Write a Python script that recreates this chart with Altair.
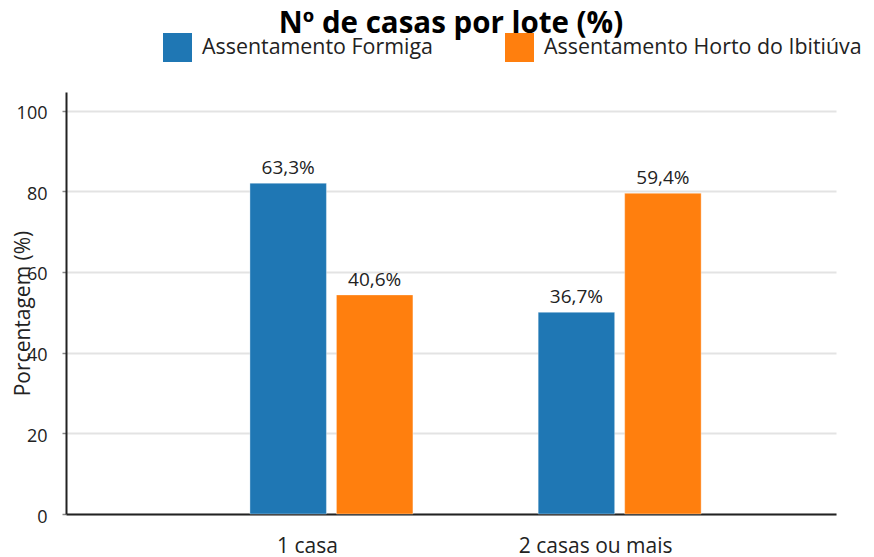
import altair as alt
import pandas as pd

categories = ["1 casa", "2 casas ou mais"]
series = ["Assentamento Formiga", "Assentamento Horto do Ibitiúva"]
values_formiga = [82.0, 50.0]
values_horto = [54.3, 79.5]
labels_formiga = ["63,3%", "36,7%"]
labels_horto = ["40,6%", "59,4%"]
colors = ["#1f77b4", "#ff7f0e"]
y_ticks = [0, 20, 40, 60, 80, 100]

rows = []
for i, c in enumerate(categories):
    rows.append({"cat": c, "serie": series[0], "valor": values_formiga[i], "rotulo": labels_formiga[i]})
    rows.append({"cat": c, "serie": series[1], "valor": values_horto[i], "rotulo": labels_horto[i]})
df = pd.DataFrame(rows)

FONT = "Open Sans"

x_enc = alt.X(
    "cat:N",
    sort=categories,
    scale=alt.Scale(paddingInner=0.4346, paddingOuter=0.553, align=0.577),
    axis=alt.Axis(
        title=None, labelAngle=0, ticks=False, tickSize=0, labelPadding=21,
        labelFontSize=21, labelFont=FONT, labelColor="#222222", labelOffset=-24,
        domainColor="#222222", domainWidth=2, grid=False,
    ),
)
xo_enc = alt.XOffset("serie:N", sort=series, scale=alt.Scale(paddingInner=0.1156, paddingOuter=0))
y_enc = alt.Y(
    "valor:Q",
    scale=alt.Scale(domain=[0, 104.6], nice=False),
    axis=alt.Axis(
        title="Porcentagem (%)", values=y_ticks, titleFont=FONT, titleFontSize=21,
        titleFontWeight="normal", titleColor="#222222", titleX=-43, titleY=221,
        titleAngle=270, titleAlign="center", titleBaseline="middle",
        labelFont=FONT, labelFontSize=18, labelColor="#222222", labelPadding=15,
        labelOffset=3,
        tickSize=4, tickColor="#888888", tickWidth=1.5,
        domainColor="#222222", domainWidth=2,
        gridColor="#e3e3e3", gridWidth=2,
    ),
)
color_enc = alt.Color(
    "serie:N",
    sort=series,
    scale=alt.Scale(domain=series, range=colors),
    legend=alt.Legend(
        title=None, orient="none", legendX=97, legendY=-59, direction="horizontal",
        symbolType="square", symbolSize=841, symbolStrokeWidth=0,
        labelFont=FONT, labelFontSize=21.4, labelColor="#222222", labelOffset=10,
        columnPadding=72, padding=0, labelLimit=400,
    ),
)

base = alt.Chart(df)
bars = base.mark_bar(stroke="#ffffff", strokeOpacity=0.35, strokeWidth=1).encode(
    x=x_enc, xOffset=xo_enc, y=y_enc, color=color_enc
)
text = base.mark_text(dy=-9, baseline="alphabetic", font=FONT, fontSize=19, color="#222222").encode(
    x=x_enc, xOffset=xo_enc, y=y_enc, text="rotulo:N"
)

chart = (
    alt.layer(bars, text)
    .properties(
        width=770, height=422,
        title=alt.TitleParams(
            "Nº de casas por lote (%)", font=FONT, fontSize=29.5, fontWeight="bold",
            color="#000000", anchor="middle", offset=-6,
        ),
        autosize=alt.AutoSizeParams(type="none"),
        padding={"left": 58, "top": 84, "right": 30, "bottom": 50},
    )
    .configure_view(stroke=None)
)

chart.save("out.html", embed_options={"renderer": "svg", "actions": False})
